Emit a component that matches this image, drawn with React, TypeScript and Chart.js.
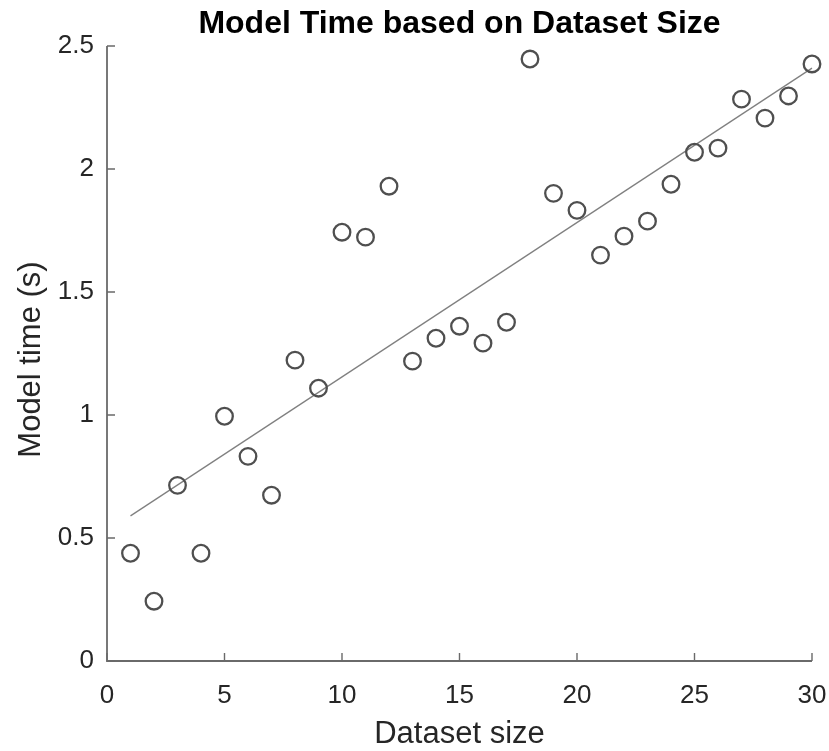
import React, { useEffect, useRef } from "react";
import { Chart, registerables } from "chart.js";

Chart.register(...registerables);

const datasetSizes = [
  1, 2, 3, 4, 5, 6, 7, 8, 9, 10, 11, 12, 13, 14, 15, 16, 17, 18, 19, 20, 21,
  22, 23, 24, 25, 26, 27, 28, 29, 30,
];
const modelTimes = [
  0.438, 0.243, 0.714, 0.438, 0.995, 0.832, 0.674, 1.223, 1.109, 1.743, 1.723,
  1.93, 1.219, 1.312, 1.361, 1.292, 1.377, 2.447, 1.901, 1.832, 1.65, 1.727,
  1.788, 1.938, 2.068, 2.085, 2.284, 2.207, 2.297, 2.427,
];
const fitX = [1, 30];
const fitY = [0.59, 2.41];
const xTicks = [0, 5, 10, 15, 20, 25, 30];
const yTicks = [0, 0.5, 1, 1.5, 2, 2.5];
const yTickLabels = ["0", "0.5", "1", "1.5", "2", "2.5"];
const titleText = "Model Time based on Dataset Size";
const xTitle = "Dataset size";
const yTitle = "Model time (s)";

const FONT = "'Liberation Sans', Arial, Helvetica, sans-serif";
const AXIS_COLOR = "#6a6a6a";
const TEXT_COLOR = "#262626";

const axesPlugin = {
  id: "matlabAxes",
  beforeDatasetsDraw(chart: any) {
    const { ctx, chartArea } = chart;
    const xs = chart.scales.x;
    const ys = chart.scales.y;
    ctx.save();
    ctx.strokeStyle = AXIS_COLOR;
    ctx.lineWidth = 1.8;
    ctx.beginPath();
    ctx.moveTo(chartArea.left, chartArea.top);
    ctx.lineTo(chartArea.left, chartArea.bottom);
    ctx.lineTo(chartArea.right, chartArea.bottom);
    ctx.stroke();
    ctx.lineWidth = 1.4;
    ctx.beginPath();
    xTicks.forEach((v) => {
      const px = xs.getPixelForValue(v);
      ctx.moveTo(px, chartArea.bottom);
      ctx.lineTo(px, chartArea.bottom - 8);
    });
    yTicks.forEach((v) => {
      const py = ys.getPixelForValue(v);
      ctx.moveTo(chartArea.left, py);
      ctx.lineTo(chartArea.left + 8, py);
    });
    ctx.stroke();
    ctx.restore();
  },
  afterDraw(chart: any) {
    const { ctx, chartArea } = chart;
    const cx = (chartArea.left + chartArea.right) / 2;
    ctx.save();
    ctx.fillStyle = "#000000";
    ctx.font = `bold 32px ${FONT}`;
    ctx.textAlign = "center";
    ctx.textBaseline = "alphabetic";
    ctx.fillText(titleText, cx, 33);

    ctx.fillStyle = TEXT_COLOR;
    ctx.font = `31px ${FONT}`;
    ctx.fillText(xTitle, cx, 743);

    ctx.translate(40, (chartArea.top + chartArea.bottom) / 2 + 6);
    ctx.rotate(-Math.PI / 2);
    ctx.fillText(yTitle, 0, 0);
    ctx.restore();
  },
};

export default function App() {
  const canvasRef = useRef<HTMLCanvasElement | null>(null);

  useEffect(() => {
    document.body.style.margin = "0";
    const canvas = canvasRef.current;
    if (!canvas) return;
    const chart = new Chart(canvas, {
      type: "scatter",
      data: {
        datasets: [
          {
            label: "fit",
            type: "line",
            data: fitX.map((x, i) => ({ x, y: fitY[i] })),
            borderColor: "#808080",
            borderWidth: 1.3,
            pointRadius: 0,
            fill: false,
            clip: false,
            order: 2,
          } as any,
          {
            label: "data",
            data: datasetSizes.map((x, i) => ({ x, y: modelTimes[i] })),
            pointStyle: "circle",
            pointRadius: 8.3,
            pointBorderWidth: 2.3,
            borderColor: "#4f4f4f",
            backgroundColor: "rgba(0,0,0,0)",
            pointBackgroundColor: "rgba(0,0,0,0)",
            pointBorderColor: "#4f4f4f",
            clip: false,
            order: 1,
          } as any,
        ],
      },
      options: {
        animation: false,
        responsive: false,
        devicePixelRatio: 1,
        layout: { padding: { top: 46, right: 17, left: 0, bottom: 0 } },
        plugins: {
          legend: { display: false },
          tooltip: { enabled: false },
          title: { display: false },
        },
        scales: {
          x: {
            type: "linear",
            min: 0,
            max: 30,
            grid: { display: false, drawTicks: false },
            border: { display: false },
            afterBuildTicks: (scale: any) => {
              scale.ticks = xTicks.map((v) => ({ value: v }));
            },
            afterFit: (scale: any) => {
              scale.height = 90;
              scale.paddingLeft = 0;
              scale.paddingRight = 0;
            },
            ticks: {
              color: TEXT_COLOR,
              font: { family: FONT, size: 26 },
              padding: 19,
              maxRotation: 0,
              autoSkip: false,
              callback: (v: any) => String(v),
            },
            title: { display: false },
          },
          y: {
            type: "linear",
            min: 0,
            max: 2.5,
            grid: { display: false, drawTicks: false },
            border: { display: false },
            afterBuildTicks: (scale: any) => {
              scale.ticks = yTicks.map((v) => ({ value: v }));
            },
            afterFit: (scale: any) => {
              scale.width = 107;
              scale.paddingTop = 0;
              scale.paddingBottom = 0;
            },
            ticks: {
              color: TEXT_COLOR,
              font: { family: FONT, size: 26 },
              padding: 13,
              autoSkip: false,
              callback: (v: any) => {
                const i = yTicks.indexOf(Number(v));
                return i >= 0 ? yTickLabels[i] : "";
              },
            },
            title: { display: false },
          },
        },
      },
      plugins: [axesPlugin],
    });
    return () => chart.destroy();
  }, []);

  return (
    <div style={{ position: "fixed", left: 0, top: 0, width: 829, height: 751, background: "#fff" }}>
      <canvas ref={canvasRef} width={829} height={751} style={{ width: 829, height: 751 }} />
    </div>
  );
}
